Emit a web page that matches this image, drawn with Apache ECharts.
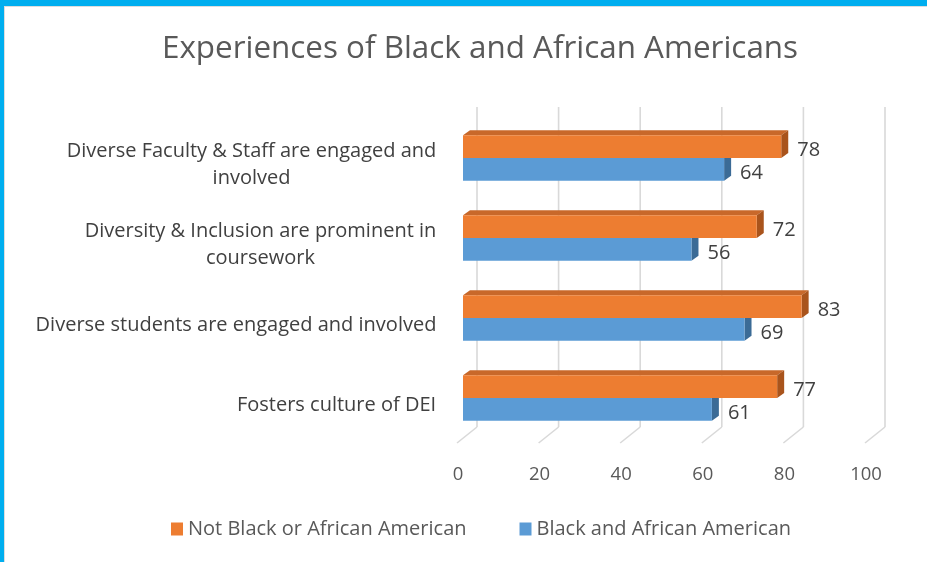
<!DOCTYPE html>
<html>
<head>
<meta charset="utf-8">
<script src="https://cdn.jsdelivr.net/npm/echarts@6/dist/echarts.min.js"></script>
<style>
html,body{margin:0;padding:0;background:#fff;}
#chart{width:927px;height:562px;}
</style>
</head>
<body>
<div id="chart"></div>
<script>
// ---- data ----
var titleText = 'Experiences of Black and African Americans';
var categories = [
  'Diverse Faculty & Staff are engaged and\ninvolved',
  'Diversity & Inclusion are prominent in\ncoursework',
  'Diverse students are engaged and involved',
  'Fosters culture of DEI'
];
var seriesNotBlack = 'Not Black or African American';
var seriesBlack = 'Black and African American';
var valuesNotBlack = [78, 72, 83, 77];
var valuesBlack = [64, 56, 69, 61];
var xTicks = [0, 20, 40, 60, 80, 100];

// ---- styling ----
var FONT = 'Open Sans';
var CAT_FONT_SIZE = 20;
var DX = 7, DY = 5;       // bar depth
var GX = 14, GY = 11;     // back wall offset
var FX = -6, FY = 5;      // floor front offset

// measure widest line of each category label so multi-line labels are centred
var ctx = document.createElement('canvas').getContext('2d');
ctx.font = CAT_FONT_SIZE + 'px "' + FONT + '"';
var catRich = {};
categories.forEach(function (c, i) {
  var w = 0;
  c.split('\n').forEach(function (l) { w = Math.max(w, ctx.measureText(l).width); });
  catRich['c' + i] = { width: Math.ceil(w) + 1, align: 'center', fontSize: CAT_FONT_SIZE, lineHeight: 27, color: '#404040', fontFamily: FONT };
});

function barRender(colors, upper) {
  return function (params, api) {
    var v = api.value(0), c = api.value(1);
    var p0 = api.coord([0, c]);
    var p1 = api.coord([v, c]);
    var band = api.size([0, 1])[1];
    var h = band * 0.284;
    var yTop = upper ? p0[1] - h : p0[1];
    var yBot = yTop + h;
    var x0 = p0[0], x1 = p1[0];
    return {
      type: 'group',
      children: [
        { type: 'polygon', shape: { points: [[x0, yTop], [x0 + DX, yTop - DY], [x1 + DX, yTop - DY], [x1, yTop]] },
          style: { fill: colors.top } },
        { type: 'polygon', shape: { points: [[x1, yTop], [x1 + DX, yTop - DY], [x1 + DX, yBot - DY], [x1, yBot]] },
          style: { fill: colors.side } },
        { type: 'rect', shape: { x: x0, y: yTop, width: x1 - x0, height: h },
          style: { fill: colors.front } },
        { type: 'text', x: x1 + DX + 9, y: yTop + h / 2 + 3.5,
          style: { text: String(v), fill: '#404040', font: '20px "' + FONT + '"', textAlign: 'left', textVerticalAlign: 'middle' } }
      ]
    };
  };
}

function gridRender(params, api) {
  var x = api.coord([api.value(0), 0])[0];
  var cs = params.coordSys;
  var top = cs.y, bot = cs.y + cs.height;
  return {
    type: 'group',
    children: [
      { type: 'line', shape: { x1: x + GX, y1: top - GY, x2: x + GX, y2: bot - GY },
        style: { stroke: '#D9D9D9', lineWidth: 1.6 } },
      { type: 'line', shape: { x1: x + GX, y1: bot - GY, x2: x + FX, y2: bot + FY },
        style: { stroke: '#D9D9D9', lineWidth: 1.6 } }
    ]
  };
}

var chart = echarts.init(document.getElementById('chart'), null, { renderer: 'canvas' });
chart.setOption({
  animation: false,
  backgroundColor: '#ffffff',
  textStyle: { fontFamily: FONT },
  title: {
    text: titleText,
    left: 475, top: 29, textAlign: 'center',
    textStyle: { fontSize: 31.4, fontWeight: 'normal', color: '#595959', fontFamily: FONT }
  },
  graphic: [
    { type: 'rect', shape: { x: 0, y: 0, width: 927, height: 6 }, style: { fill: '#00AEEF' }, z: 100 },
    { type: 'rect', shape: { x: 0, y: 0, width: 4, height: 562 }, style: { fill: '#00AEEF' }, z: 100 },
    { type: 'rect', shape: { x: 4, y: 6, width: 923, height: 1 }, style: { fill: '#DDDDDD' }, z: 100 },
    { type: 'rect', shape: { x: 4, y: 6, width: 1, height: 556 }, style: { fill: '#DDDDDD' }, z: 100 }
  ],
  legend: {
    data: [seriesNotBlack, seriesBlack],
    left: 166, top: 514,
    icon: 'rect', itemWidth: 12, itemHeight: 13, itemGap: 53,
    textStyle: { fontSize: 20, color: '#595959', fontFamily: FONT }
  },
  grid: [
    { left: 463, right: 56, top: 118, height: 320 },
    { left: 463, right: 56, top: 125, height: 320 }
  ],
  xAxis: [
    {
      type: 'value', min: 0, max: 100, interval: 20, gridIndex: 0,
      axisLine: { show: false }, axisTick: { show: false }, splitLine: { show: false },
      axisLabel: { margin: 27, fontSize: 18.5, color: '#595959', padding: [0, 10, 0, 0], fontFamily: FONT }
    },
    { type: 'value', min: 0, max: 100, gridIndex: 1, show: false }
  ],
  yAxis: [
    {
      type: 'category', data: categories, inverse: true, gridIndex: 0,
      axisLine: { show: false }, axisTick: { show: false }, splitLine: { show: false },
      axisLabel: { show: false }
    },
    {
      type: 'category', data: categories, inverse: true, gridIndex: 1,
      axisLine: { show: false }, axisTick: { show: false }, splitLine: { show: false },
      axisLabel: {
        margin: 26, align: 'right', fontSize: CAT_FONT_SIZE, lineHeight: 27, color: '#404040', fontFamily: FONT,
        formatter: function (value, idx) {
          return value.split('\n').map(function (l) { return '{c' + idx + '|' + l + '}'; }).join('\n');
        },
        rich: catRich
      }
    }
  ],
  series: [
    { type: 'custom', name: 'grid', silent: true, z: 1, renderItem: gridRender,
      xAxisIndex: 0, yAxisIndex: 0,
      data: xTicks.map(function (v) { return [v, 0]; }), encode: { x: 0, y: 1 } },
    { type: 'custom', name: seriesBlack, z: 2, itemStyle: { color: '#5B9BD5' },
      xAxisIndex: 0, yAxisIndex: 0,
      renderItem: barRender({ front: '#5B9BD5', top: '#4A85BC', side: '#3B6B96' }, false),
      data: valuesBlack.map(function (v, i) { return [v, i]; }), encode: { x: 0, y: 1 } },
    { type: 'custom', name: seriesNotBlack, z: 3, itemStyle: { color: '#ED7D31' },
      xAxisIndex: 0, yAxisIndex: 0,
      renderItem: barRender({ front: '#ED7D31', top: '#C8682A', side: '#A9541C' }, true),
      data: valuesNotBlack.map(function (v, i) { return [v, i]; }), encode: { x: 0, y: 1 } }
  ]
});
</script>
</body>
</html>
